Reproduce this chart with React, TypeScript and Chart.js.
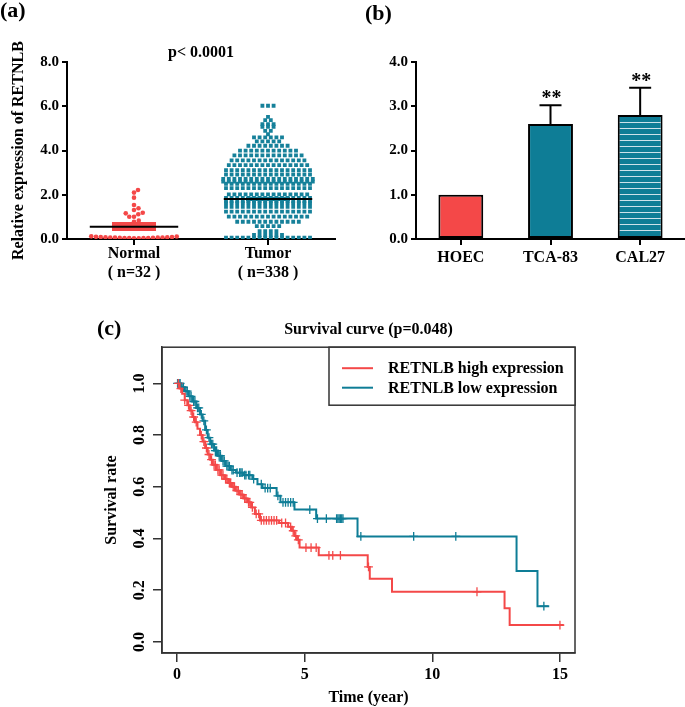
import React, { useEffect, useRef } from "react";
import { Chart, registerables } from "chart.js";

Chart.register(...registerables);

const SERIF = '"Liberation Serif", "Times New Roman", Times, serif';
const RED = "#f44848";
const TEAL = "#0e7d96";
const TEAL_PT = "#16819a";
const RAXIS = "#333333";

Chart.defaults.color = "#000";
Chart.defaults.font.family = SERIF;

// ---------------- Panel (a) data ----------------
const groupNames = ["Normal", "Tumor"];
const groupSizes = ["( n=32 )", "( n=338 )"];
const pValueText = "p< 0.0001";
const yTitleA = "Relative expression of RETNLB";
const yTicksA = [0, 2, 4, 6, 8];
const normalValues = [
  2.22, 2.1, 1.87, 1.54, 1.39, 1.31, 1.19, 1.16, 1.12, 1.01, 1.01, 0.83, 0.78,
  0.12, 0.1, 0.09, 0.08, 0.07, 0.06, 0.05, 0.04, 0.04, 0.03, 0.03, 0.04, 0.04,
  0.05, 0.06, 0.07, 0.08, 0.09, 0.11,
];
const tumorRowValues = [
  6.03, 5.53, 5.38, 5.2, 5.08, 4.89, 4.74, 4.6, 4.42, 4.22, 4.0, 3.78, 3.56,
  3.34, 3.12, 2.92, 2.72, 2.6, 2.5, 2.3, 2.02, 1.86, 1.7, 1.62, 1.46, 1.24, 1.01,
  0.78, 0.58, 0.36, 0.18, 0.06,
];
const tumorRowCounts = [
  3, 1, 2, 3, 3, 2, 1, 6, 5, 8, 11, 13, 14, 15, 16, 16, 17, 17, 16, 16, 15, 16,
  16, 16, 16, 16, 15, 12, 5, 4, 6, 16,
];
const groupMeans = [0.55, 1.81];
const groupSemLow = [0.36, 1.72];
const groupSemHigh = [0.77, 1.9];

// ---------------- Panel (b) data ----------------
const cellLines = ["HOEC", "TCA-83", "CAL27"];
const cellValues = [1.0, 2.6, 2.8];
const cellErrors = [0, 0.42, 0.62];
const cellStars = ["", "**", "**"];
const yTicksB = [0, 1, 2, 3, 4];

// ---------------- Panel (c) data ----------------
const survTitle = "Survival curve (p=0.048)";
const legendLabels = ["RETNLB high expression", "RETNLB low expression"];
const xTitleC = "Time (year)";
const yTitleC = "Survival rate";
const xTicksC = [0, 5, 10, 15];
const yTicksC = [0, 0.2, 0.4, 0.6, 0.8, 1.0];
const highTimes = [
  0, 0.1, 0.2, 0.3, 0.4, 0.5, 0.6, 0.7, 0.8, 0.9, 1.0, 1.1, 1.2, 1.3, 1.4, 1.55,
  1.7, 1.85, 2.0, 2.15, 2.3, 2.45, 2.6, 2.75, 2.9, 3.05, 3.25, 4.0, 4.35, 4.5,
  4.6, 4.7, 4.8, 5.55, 7.47, 7.55, 8.42, 12.83, 13.03, 15.15,
];
const highSurv = [
  1.0, 0.98, 0.96, 0.935, 0.915, 0.895, 0.87, 0.85, 0.825, 0.8, 0.775, 0.75,
  0.725, 0.705, 0.685, 0.665, 0.645, 0.63, 0.615, 0.6, 0.585, 0.57, 0.555, 0.54,
  0.52, 0.495, 0.47, 0.46, 0.445, 0.43, 0.41, 0.395, 0.365, 0.335, 0.29, 0.244,
  0.194, 0.13, 0.065, 0.065,
];
const highCensor = [
  0.05, 0.15, 0.3, 0.45, 0.55, 0.65, 0.75, 0.95, 1.05, 1.15, 1.25, 1.35, 1.45,
  1.5, 1.6, 1.65, 1.75, 1.8, 1.9, 1.95, 2.05, 2.1, 2.2, 2.25, 2.35, 2.4, 2.5,
  2.55, 2.65, 2.7, 2.8, 2.85, 2.95, 3.1, 3.2, 3.3, 3.4, 3.5, 3.6, 3.7, 3.8, 3.9,
  4.1, 4.25, 4.45, 4.55, 4.65, 4.75, 5.05, 5.25, 5.45, 5.95, 6.1, 6.4, 7.5,
  11.75, 15.0,
];
const lowTimes = [
  0, 0.15, 0.3, 0.45, 0.6, 0.75, 0.9, 1.0, 1.1, 1.2, 1.3, 1.45, 1.6, 1.75, 1.9,
  2.1, 2.3, 2.6, 2.95, 3.15, 3.35, 3.9, 4.05, 4.6, 5.45, 7.07, 13.3, 14.12,
  14.58,
];
const lowSurv = [
  1.0, 0.985, 0.97, 0.95, 0.93, 0.905, 0.88, 0.855, 0.82, 0.79, 0.765, 0.74,
  0.72, 0.7, 0.68, 0.665, 0.655, 0.645, 0.63, 0.61, 0.595, 0.565, 0.54, 0.512,
  0.477, 0.408, 0.274, 0.138, 0.138,
];
const lowCensor = [
  0.02, 0.08, 0.12, 0.2, 0.25, 0.35, 0.4, 0.5, 0.55, 0.65, 0.7, 0.8, 0.85, 0.95,
  1.05, 1.15, 1.25, 1.35, 1.4, 1.5, 1.55, 1.65, 1.7, 1.8, 1.85, 1.95, 2.0, 2.05,
  2.15, 2.2, 2.35, 2.45, 2.5, 2.55, 2.65, 2.7, 2.8, 2.85, 3.0, 3.3, 3.45, 3.55,
  3.65, 3.95, 4.15, 4.25, 4.35, 4.45, 4.55, 5.2, 5.5, 5.85, 6.25, 6.3, 6.35,
  6.4, 6.45, 6.5, 7.2, 9.27, 10.92, 14.37,
];

// ---------------- helpers ----------------
const bold = (size: number, lineHeight = 1.2) => ({
  family: SERIF,
  size,
  weight: "bold" as const,
  lineHeight,
});

function survAt(times: number[], surv: number[], t: number) {
  let s = surv[0];
  for (let i = 0; i < times.length; i++) if (times[i] <= t) s = surv[i];
  return s;
}

function swarmOffsets(values: number[], pxPerY: number, diam: number) {
  const order = values.map((_, i) => i).sort((a, b) => values[a] - values[b]);
  const placed: [number, number][] = [];
  const out = new Array(values.length).fill(0);
  for (const i of order) {
    const py = values[i] * pxPerY;
    let best = 0;
    for (let k = 0; k < 600; k++) {
      const off = (k % 2 === 1 ? 1 : -1) * Math.ceil(k / 2) * 0.25;
      if (placed.every(([px, qy]) => Math.hypot(px - off, qy - py) >= diam)) {
        best = off;
        break;
      }
    }
    placed.push([best, py]);
    out[i] = best;
  }
  return out;
}

const MEAN_HALF = 0.33;
const SEM_HALF = 0.165;
const TUMOR_SPACING_PX = 5.6;
const NORMAL_DIAM_PX = 4.7;

function setupA(canvas: HTMLCanvasElement) {
  const meanSet = (g: number) => ({
    type: "line" as const,
    data: [
      { x: g + 1 - MEAN_HALF, y: groupMeans[g] },
      { x: g + 1 + MEAN_HALF, y: groupMeans[g] },
    ],
    borderColor: "#000",
    borderWidth: 2,
    pointRadius: 0,
    fill: false,
    order: 0,
  });
  const semSet = (g: number, color: string) => ({
    type: "line" as const,
    data: [
      { x: g + 1 - SEM_HALF, y: groupSemHigh[g] },
      { x: g + 1 + SEM_HALF, y: groupSemHigh[g] },
    ],
    borderColor: "rgba(0,0,0,0)",
    borderWidth: 0,
    pointRadius: 0,
    backgroundColor: color,
    fill: { value: groupSemLow[g] },
    order: 1,
  });
  const chart = new Chart(canvas, {
    type: "scatter",
    data: {
      datasets: [
        meanSet(0),
        meanSet(1),
        semSet(0, RED),
        semSet(1, TEAL_PT),
        {
          type: "scatter",
          data: normalValues.map((v) => ({ x: 1, y: v })),
          pointStyle: "circle",
          pointRadius: 2.3,
          backgroundColor: RED,
          borderWidth: 0,
          order: 2,
        },
        {
          type: "scatter",
          data: [],
          pointStyle: "rect",
          pointRadius: 2.7,
          backgroundColor: TEAL_PT,
          borderWidth: 0,
          order: 2,
        },
      ] as any,
    },
    options: {
      responsive: false,
      animation: false,
      events: [],
      layout: { autoPadding: false, padding: { left: 0, right: 5, top: 0, bottom: 0 } },
      plugins: {
        legend: { display: false },
        tooltip: { enabled: false },
        title: {
          display: true,
          text: pValueText,
          fullSize: false,
          font: bold(16),
          color: "#000",
          padding: { top: 43, bottom: 0 },
        },
      },
      scales: {
        x: {
          type: "linear",
          min: 0.5,
          max: 2.5,
          afterBuildTicks: (s: any) => {
            s.ticks = groupNames.map((_, i) => ({ value: i + 1 }));
          },
          ticks: {
            callback: (_v: any, i: number) => [groupNames[i], groupSizes[i]],
            font: bold(16, 1.15),
            color: "#000",
            padding: 0,
            maxRotation: 0,
            autoSkip: false,
          },
          grid: { drawOnChartArea: false, tickLength: 6, color: "#000", lineWidth: 2 },
          border: { display: true, color: "#000", width: 2 },
          afterFit: (s: any) => {
            s.height = 51;
          },
        },
        y: {
          min: 0,
          max: 8,
          afterBuildTicks: (s: any) => {
            s.ticks = yTicksA.map((v) => ({ value: v }));
          },
          ticks: {
            callback: (v: any) => Number(v).toFixed(1),
            font: bold(15),
            color: "#000",
            padding: 3,
          },
          grid: { drawOnChartArea: false, tickLength: 5, color: "#000", lineWidth: 2 },
          border: { display: true, color: "#000", width: 2 },
          title: {
            display: true,
            text: yTitleA,
            font: bold(16),
            color: "#000",
            padding: { top: 9, bottom: 0 },
          },
          afterFit: (s: any) => {
            s.width = 67;
          },
        },
      },
    } as any,
  });
  const xs: any = chart.scales.x;
  const ys: any = chart.scales.y;
  const pxX = xs.getPixelForValue(1) - xs.getPixelForValue(0);
  const pxY = ys.getPixelForValue(0) - ys.getPixelForValue(1);
  const nOff = swarmOffsets(normalValues, pxY, NORMAL_DIAM_PX);
  (chart.data.datasets[4] as any).data = normalValues.map((v, i) => ({
    x: 1 + nOff[i] / pxX,
    y: v,
  }));
  const tumorPts: { x: number; y: number }[] = [];
  tumorRowValues.forEach((v, r) => {
    const n = tumorRowCounts[r];
    for (let j = 0; j < n; j++)
      tumorPts.push({ x: 2 + ((j - (n - 1) / 2) * TUMOR_SPACING_PX) / pxX, y: v });
  });
  (chart.data.datasets[5] as any).data = tumorPts;
  chart.update();
  return chart;
}

function setupB(canvas: HTMLCanvasElement) {
  const ctx = canvas.getContext("2d")!;
  const tile = document.createElement("canvas");
  tile.width = 6;
  tile.height = 6;
  const g = tile.getContext("2d")!;
  g.fillStyle = TEAL;
  g.fillRect(0, 0, 6, 6);
  g.fillStyle = "rgba(215,232,238,0.95)";
  g.fillRect(0, 2, 6, 1);
  const stripes = ctx.createPattern(tile, "repeat");

  const errorPlugin = {
    id: "errorBars",
    afterDatasetsDraw(chart: any) {
      const c = chart.ctx;
      const ys = chart.scales.y;
      const meta = chart.getDatasetMeta(0);
      meta.data.forEach((bar: any, i: number) => {
        const err = cellErrors[i];
        if (!err) return;
        const topY = ys.getPixelForValue(cellValues[i] + err);
        const baseY = ys.getPixelForValue(cellValues[i]);
        c.save();
        c.strokeStyle = "#000";
        c.lineWidth = 2;
        c.beginPath();
        c.moveTo(bar.x, baseY);
        c.lineTo(bar.x, topY);
        c.moveTo(bar.x - 11, topY);
        c.lineTo(bar.x + 11, topY);
        c.stroke();
        c.fillStyle = "#000";
        c.font = `bold 20px ${SERIF}`;
        c.textAlign = "center";
        c.textBaseline = "alphabetic";
        c.fillText(cellStars[i], bar.x + 1, topY - 1);
        c.restore();
      });
    },
  };

  return new Chart(canvas, {
    type: "bar",
    data: {
      labels: cellLines,
      datasets: [
        {
          data: cellValues,
          backgroundColor: [RED, TEAL, stripes as any],
          borderColor: "#000",
          borderWidth: 2,
          borderSkipped: false,
          barPercentage: 0.5,
          categoryPercentage: 1,
        },
      ],
    },
    options: {
      responsive: false,
      animation: false,
      events: [],
      layout: { autoPadding: false, padding: { left: 0, right: 0, top: 62, bottom: 0 } },
      plugins: { legend: { display: false }, tooltip: { enabled: false } },
      scales: {
        x: {
          ticks: { font: bold(16), color: "#000", padding: 3 },
          grid: {
            offset: false,
            drawOnChartArea: false,
            tickLength: 6,
            color: "#000",
            lineWidth: 2,
          },
          border: { display: true, color: "#000", width: 2 },
          afterFit: (s: any) => {
            s.height = 51;
          },
        },
        y: {
          min: 0,
          max: 4,
          afterBuildTicks: (s: any) => {
            s.ticks = yTicksB.map((v) => ({ value: v }));
          },
          ticks: {
            callback: (v: any) => Number(v).toFixed(1),
            font: bold(15),
            color: "#000",
            padding: 3,
          },
          grid: { drawOnChartArea: false, tickLength: 5, color: "#000", lineWidth: 2 },
          border: { display: true, color: "#000", width: 2 },
          afterFit: (s: any) => {
            s.width = 76;
          },
        },
      },
    } as any,
    plugins: [errorPlugin],
  });
}

function setupC(canvas: HTMLCanvasElement) {
  const boxPlugin = {
    id: "rbox",
    beforeDatasetsDraw(chart: any) {
      const { ctx, chartArea: a } = chart;
      ctx.save();
      ctx.strokeStyle = RAXIS;
      ctx.lineWidth = 1.5;
      ctx.strokeRect(a.left, a.top, a.right - a.left, a.bottom - a.top);
      ctx.restore();
    },
  };
  const yLabelPlugin = {
    id: "rylabels",
    afterDraw(chart: any) {
      const { ctx } = chart;
      const ys = chart.scales.y;
      ctx.save();
      ctx.fillStyle = "#000";
      ctx.font = `bold 16px ${SERIF}`;
      ctx.textAlign = "center";
      ctx.textBaseline = "middle";
      ys.ticks.forEach((t: any) => {
        const y = ys.getPixelForValue(t.value);
        ctx.save();
        ctx.translate(ys.right - 22, y);
        ctx.rotate(-Math.PI / 2);
        ctx.fillText(Number(t.value).toFixed(1), 0, 0);
        ctx.restore();
      });
      ctx.restore();
    },
  };
  const legendPlugin = {
    id: "rlegend",
    afterDraw(chart: any) {
      const { ctx, chartArea: a } = chart;
      const W = 246;
      const H = 58;
      const x0 = a.right - W;
      const y0 = a.top;
      ctx.save();
      ctx.fillStyle = "#fff";
      ctx.fillRect(x0, y0, W, H);
      ctx.strokeStyle = RAXIS;
      ctx.lineWidth = 1.5;
      ctx.strokeRect(x0, y0, W, H);
      const colors = [RED, TEAL];
      ctx.font = `bold 16px ${SERIF}`;
      ctx.textAlign = "left";
      ctx.textBaseline = "middle";
      legendLabels.forEach((lab, i) => {
        const y = y0 + 21 + i * 19.5;
        ctx.strokeStyle = colors[i];
        ctx.lineWidth = 2;
        ctx.beginPath();
        ctx.moveTo(x0 + 13, y);
        ctx.lineTo(x0 + 44, y);
        ctx.stroke();
        ctx.fillStyle = "#000";
        ctx.fillText(lab, x0 + 59, y + 1);
      });
      ctx.restore();
    },
  };

  const stepSet = (times: number[], surv: number[], color: string) => ({
    type: "line" as const,
    data: times.map((t, i) => ({ x: t, y: surv[i] })),
    stepped: true,
    borderColor: color,
    borderWidth: 2,
    pointRadius: 0,
    fill: false,
  });
  const censorSet = (cens: number[], times: number[], surv: number[], color: string) => ({
    type: "scatter" as const,
    data: cens.map((t) => ({ x: t, y: survAt(times, surv, t) })),
    pointStyle: "cross",
    pointRadius: 4.4,
    borderColor: color,
    backgroundColor: color,
    borderWidth: 1.3,
  });

  return new Chart(canvas, {
    type: "scatter",
    data: {
      datasets: [
        stepSet(highTimes, highSurv, RED),
        stepSet(lowTimes, lowSurv, TEAL),
        censorSet(highCensor, highTimes, highSurv, RED),
        censorSet(lowCensor, lowTimes, lowSurv, TEAL),
      ] as any,
    },
    options: {
      responsive: false,
      animation: false,
      events: [],
      layout: { autoPadding: false, padding: { left: 0, right: 15, top: 0, bottom: 0 } },
      plugins: {
        legend: { display: false },
        tooltip: { enabled: false },
        title: {
          display: true,
          text: survTitle,
          fullSize: false,
          font: bold(16),
          color: "#000",
          padding: { top: 20, bottom: 8 },
        },
      },
      scales: {
        x: {
          type: "linear",
          min: -0.59,
          max: 15.59,
          afterBuildTicks: (s: any) => {
            s.ticks = xTicksC.map((v) => ({ value: v }));
          },
          ticks: {
            callback: (v: any) => String(v),
            font: bold(16),
            color: "#000",
            padding: 3,
            maxRotation: 0,
          },
          grid: { drawOnChartArea: false, tickLength: 9, color: RAXIS, lineWidth: 1.5 },
          border: { display: true, color: RAXIS, width: 1.5 },
          title: {
            display: true,
            text: xTitleC,
            font: bold(16),
            color: "#000",
            padding: { top: 0, bottom: 0 },
          },
          afterFit: (s: any) => {
            s.height = 54;
          },
        },
        y: {
          min: -0.043,
          max: 1.14,
          afterBuildTicks: (s: any) => {
            s.ticks = yTicksC.map((v) => ({ value: v }));
          },
          ticks: { display: false },
          grid: { drawOnChartArea: false, tickLength: 9, color: RAXIS, lineWidth: 1.5 },
          border: { display: true, color: RAXIS, width: 1.5 },
          title: {
            display: true,
            text: yTitleC,
            font: bold(16),
            color: "#000",
            padding: { top: 12, bottom: 0 },
          },
          afterFit: (s: any) => {
            s.width = 72;
          },
        },
      },
    } as any,
    plugins: [boxPlugin, yLabelPlugin, legendPlugin],
  });
}

function ChartBox(props: {
  left: number;
  top: number;
  width: number;
  height: number;
  setup: (c: HTMLCanvasElement) => Chart;
}) {
  const ref = useRef<HTMLCanvasElement>(null);
  useEffect(() => {
    const chart = props.setup(ref.current!);
    return () => chart.destroy();
  }, []);
  return (
    <canvas
      ref={ref}
      width={props.width}
      height={props.height}
      style={{
        position: "absolute",
        left: props.left,
        top: props.top,
        width: props.width,
        height: props.height,
      }}
    />
  );
}

const panelLabel = (text: string, left: number, top: number) => (
  <div
    style={{
      position: "absolute",
      left,
      top,
      font: `bold 22px ${SERIF}`,
      lineHeight: "22px",
      color: "#000",
      whiteSpace: "nowrap",
    }}
  >
    {text}
  </div>
);

export default function App() {
  return (
    <div
      style={{
        position: "absolute",
        left: 0,
        top: 0,
        width: 685,
        height: 707,
        background: "#fff",
        overflow: "hidden",
      }}
    >
      <ChartBox left={0} top={0} width={340} height={290} setup={setupA} />
      <ChartBox left={340} top={0} width={345} height={290} setup={setupB} />
      <ChartBox left={90} top={300} width={500} height={407} setup={setupC} />
      {panelLabel("(a)", 0, -1)}
      {panelLabel("(b)", 365, 2)}
      {panelLabel("(c)", 97, 317)}
    </div>
  );
}
